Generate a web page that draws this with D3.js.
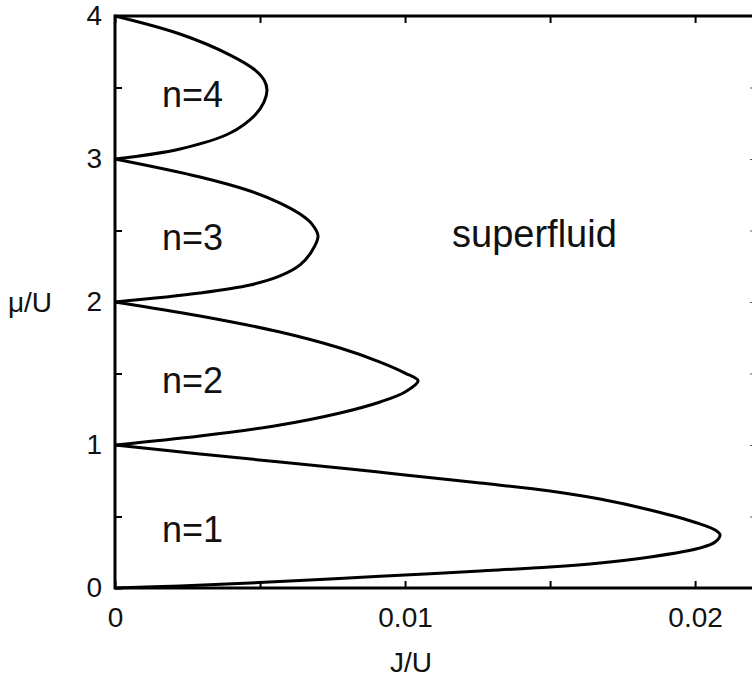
<!DOCTYPE html>
<html>
<head>
<meta charset="utf-8">
<script src="https://cdn.jsdelivr.net/npm/d3@7"></script>
<style>
  body { margin: 0; background: #fff; }
  svg text { font-family: "Liberation Sans", Arial, sans-serif; fill: #111; }
</style>
</head>
<body>
<div id="chart"></div>
<script>
// Mott lobes: chemical potential mu/U and the
// critical hopping J/U on the lobe boundary, ordered by mu
var lobe1_mu = [0, 0.014, 0.035, 0.063, 0.091, 0.119, 0.147, 0.175, 0.217, 0.280, 0.322, 0.371,
                0.406, 0.448, 0.545, 0.622, 0.678, 0.734, 0.790, 0.832, 0.881, 0.937, 1];
var lobe1_J  = [0, 0.00224, 0.00466, 0.00741, 0.0100, 0.01259, 0.0150, 0.01672, 0.01845, 0.02017, 0.02069, 0.02086,
                0.02069, 0.02017, 0.01845, 0.01672, 0.0150, 0.01259, 0.0100, 0.0081, 0.00569, 0.00293, 0];

var lobe2_mu = [1, 1.063, 1.140, 1.224, 1.301, 1.371, 1.448, 1.503, 1.580, 1.678, 1.790, 1.902, 2];
var lobe2_J  = [0, 0.00293, 0.00569, 0.00776, 0.00914, 0.0100, 0.01045, 0.0100, 0.00914, 0.00776, 0.00569, 0.00293, 0];

var lobe3_mu = [2, 2.063, 2.119, 2.182, 2.259, 2.357, 2.462, 2.545, 2.615, 2.692, 2.776, 2.874, 3];
var lobe3_J  = [0, 0.00293, 0.00466, 0.00569, 0.00638, 0.00679, 0.0070, 0.00679, 0.00638, 0.00569, 0.00466, 0.00293, 0];

var lobe4_mu = [3, 3.070, 3.182, 3.308, 3.399, 3.483, 3.552, 3.622, 3.727, 3.874, 4];
var lobe4_J  = [0, 0.00224, 0.00397, 0.00483, 0.00514, 0.00524, 0.00514, 0.00483, 0.00397, 0.00224, 0];

var lobe_names = ["n=1", "n=2", "n=3", "n=4"];
var lobe_label_mu = [0.41, 1.45, 2.45, 3.45];
var label_J = 0.00162;

var region_name = "superfluid";
var region_J = 0.01162, region_mu = 2.385;

var x_ticks = [0, 0.005, 0.01, 0.015, 0.02];
var x_labels = ["0", "", "0.01", "", "0.02"];
var y_ticks = [0, 0.5, 1, 1.5, 2, 2.5, 3, 3.5, 4];
var y_labels = ["0", "", "1", "", "2", "", "3", "", "4"];

var width = 752, height = 679;
var margin = {left: 115, top: 16, right: -4, bottom: 91};

var x = d3.scaleLinear()
    .domain([0, 0.0221])
    .range([margin.left, width - margin.right]);

var y = d3.scaleLinear()
    .domain([0, 4])
    .range([height - margin.bottom, margin.top]);

var svg = d3.select("#chart").append("svg")
    .attr("width", width)
    .attr("height", height);

function xfmt(d) { return x_labels[x_ticks.indexOf(d)]; }
function yfmt(d) { return y_labels[y_ticks.indexOf(d)]; }

// axes with ticks pointing inward
var gb = svg.append("g")
    .attr("transform", "translate(0," + y(0) + ")")
    .call(d3.axisBottom(x).tickValues(x_ticks).tickFormat(xfmt).tickSize(-7).tickPadding(19));
var gt = svg.append("g")
    .attr("transform", "translate(0," + y(4) + ")")
    .call(d3.axisTop(x).tickValues(x_ticks).tickFormat("").tickSize(-7));
var gl = svg.append("g")
    .attr("transform", "translate(" + x(0) + ",0)")
    .call(d3.axisLeft(y).tickValues(y_ticks).tickFormat(yfmt).tickSize(-7).tickPadding(13));
var gr = svg.append("g")
    .attr("transform", "translate(" + x(0.0221) + ",0)")
    .call(d3.axisRight(y).tickValues(y_ticks).tickFormat("").tickSize(-6));

[gb, gt, gl, gr].forEach(function (g) {
  g.select(".domain").remove();
  g.selectAll(".tick line").attr("stroke", "#000").attr("stroke-width", 2);
  g.selectAll(".tick text").style("font-size", "28px").attr("fill", "#111");
});
gr.selectAll(".tick line").attr("stroke-width", 1).attr("stroke", "#555");

// frame
svg.append("rect")
    .attr("x", x(0))
    .attr("y", y(4))
    .attr("width", x(0.0221) - x(0))
    .attr("height", y(0) - y(4))
    .attr("fill", "none")
    .attr("stroke", "#000")
    .attr("stroke-width", 3);

var line = d3.line()
    .x(function (d) { return x(d[1]); })
    .y(function (d) { return y(d[0]); })
    .curve(d3.curveCatmullRom.alpha(0.5));

[[lobe1_mu, lobe1_J], [lobe2_mu, lobe2_J], [lobe3_mu, lobe3_J], [lobe4_mu, lobe4_J]].forEach(function (l) {
  svg.append("path")
      .datum(d3.zip(l[0], l[1]))
      .attr("d", line)
      .attr("fill", "none")
      .attr("stroke", "#000")
      .attr("stroke-width", 3);
});

svg.selectAll(".lobe-label")
    .data(lobe_names)
    .enter().append("text")
    .attr("class", "lobe-label")
    .attr("x", x(label_J))
    .attr("y", function (d, i) { return y(lobe_label_mu[i]); })
    .attr("dy", "0.35em")
    .style("font-size", "36px")
    .text(function (d) { return d; });

svg.append("text")
    .attr("x", x(region_J))
    .attr("y", y(region_mu))
    .style("font-size", "38px")
    .text(region_name);

svg.append("text")
    .attr("x", 411)
    .attr("y", 672)
    .attr("text-anchor", "middle")
    .style("font-size", "28px")
    .text("J/U");

svg.append("text")
    .attr("x", 30)
    .attr("y", y(2))
    .attr("dy", "0.35em")
    .attr("text-anchor", "middle")
    .style("font-size", "28px")
    .text("\u03bc/U");
</script>
</body>
</html>
